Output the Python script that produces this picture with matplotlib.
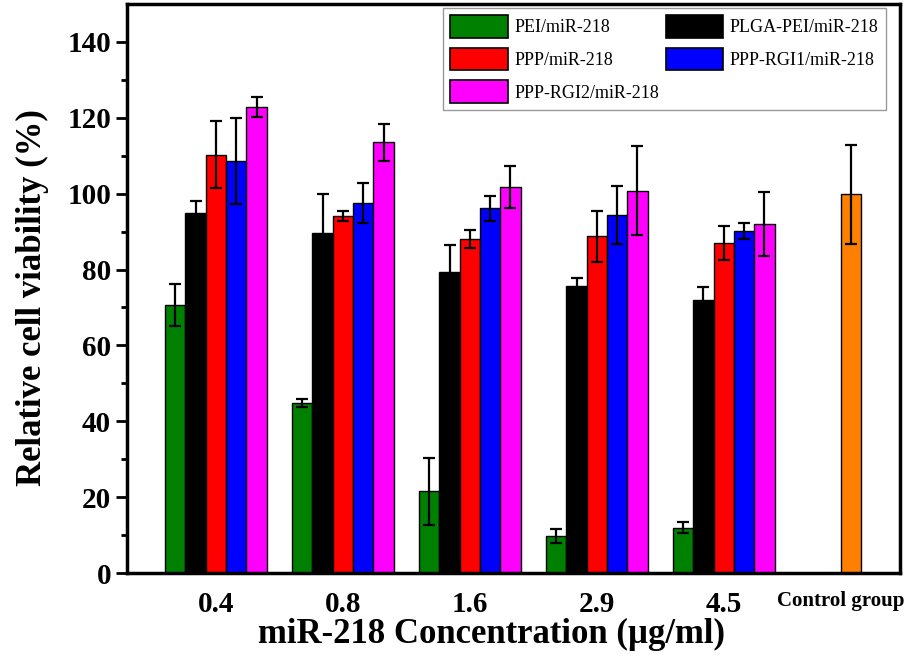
import matplotlib.pyplot as plt
from matplotlib.patches import Patch
import numpy as np

plt.rcParams['font.family'] = ['Liberation Serif', 'DejaVu Serif']

concentrations = ['0.4', '0.8', '1.6', '2.9', '4.5']
control_label = 'Control group'
series_names = ['PEI/miR-218', 'PLGA-PEI/miR-218', 'PPP/miR-218',
                'PPP-RGI1/miR-218', 'PPP-RGI2/miR-218']
series_colors = ['#008000', '#000000', '#ff0000', '#0000ff', '#ff00ff']

pei = [70.7, 44.9, 21.6, 9.8, 12.0]
pei_err = [5.5, 1.0, 8.8, 1.8, 1.5]
plga_pei = [95.0, 89.6, 79.3, 75.6, 72.0]
plga_pei_err = [3.2, 10.4, 7.3, 2.2, 3.4]
ppp = [110.3, 94.1, 88.0, 88.8, 87.0]
ppp_err = [8.9, 1.4, 2.4, 6.7, 4.6]
ppp_rgi1 = [108.7, 97.5, 96.1, 94.4, 90.2]
ppp_rgi1_err = [11.3, 5.2, 3.3, 7.7, 2.1]
ppp_rgi2 = [122.9, 113.5, 101.7, 100.8, 92.0]
ppp_rgi2_err = [2.6, 4.9, 5.6, 11.7, 8.4]

control_value = 99.8
control_err = 13.0
control_color = '#ff8000'

values = [pei, plga_pei, ppp, ppp_rgi1, ppp_rgi2]
errors = [pei_err, plga_pei_err, ppp_err, ppp_rgi1_err, ppp_rgi2_err]

fig = plt.figure(figsize=(9.14, 6.61), dpi=100)
ax = fig.add_axes([0.139, 0.133, 0.846, 0.861])

x = np.arange(len(concentrations))
ctrl_x = len(concentrations)
w = 0.16
err_kw = dict(ecolor='black', elinewidth=1.6, capsize=4.5, capthick=1.6)
for i, (vals, errs) in enumerate(zip(values, errors)):
    ax.bar(x + (i - 2) * w, vals, w, yerr=errs, color=series_colors[i],
           edgecolor='black', linewidth=1.0, error_kw=err_kw)

ax.bar([ctrl_x], [control_value], w, yerr=[control_err],
       color=control_color, edgecolor='black', linewidth=1.0, error_kw=err_kw)

ax.set_xlim(-0.7, 5.39)
ax.set_ylim(0, 150)
ax.set_yticks(np.arange(0, 141, 20))
ax.set_yticks(np.arange(10, 150, 20), minor=True)
ax.set_xticks(x)
ax.set_xticklabels(concentrations)
for lab in ax.get_xticklabels() + ax.get_yticklabels():
    lab.set_fontweight('bold')
    lab.set_fontsize(21)

# control group label sits a bit left of its bar in the original
ax.annotate(control_label, xy=(ctrl_x, 0), xycoords=('data', 'axes fraction'),
            xytext=(-7, -20), textcoords='offset points', ha='center', va='center',
            fontsize=15, fontweight='bold', annotation_clip=False)

ax.tick_params(axis='x', length=0, pad=13)
ax.tick_params(axis='y', which='major', direction='out', length=8, width=2)
ax.tick_params(axis='y', which='minor', direction='out', length=4, width=2)
for sp in ax.spines.values():
    sp.set_linewidth(2.5)

ax.set_ylabel('Relative cell viability (%)', fontsize=25, fontweight='bold')
ax.set_xlabel('miR-218 Concentration (\u00b5g/ml)', fontsize=25, fontweight='bold')
ax.yaxis.set_label_coords(-0.101, 0.485)
ax.xaxis.set_label_coords(0.471, -0.078)

order = [0, 2, 4, 1, 3]
handles = [Patch(facecolor=series_colors[k], edgecolor='black', linewidth=1.2,
                 label=series_names[k]) for k in order]
leg = ax.legend(handles=handles, ncol=2, loc='upper right',
                bbox_to_anchor=(0.981, 0.993), borderaxespad=0, fontsize=13,
                frameon=True, fancybox=False, edgecolor='gray', handlelength=3.2,
                handleheight=1.55, columnspacing=0.35, handletextpad=0.35,
                labelspacing=0.55, borderpad=0.4)
leg.get_frame().set_linewidth(1.0)

fig.savefig('out.png', dpi=100)
